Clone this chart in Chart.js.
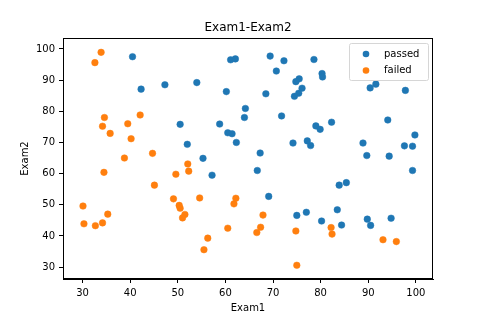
<!DOCTYPE html>
<html>
<head>
<meta charset="utf-8">
<script src="https://cdn.jsdelivr.net/npm/chart.js@4/dist/chart.umd.min.js"></script>
<style>
  html, body { margin: 0; padding: 0; background: #fff; }
  #wrap { width: 499px; height: 328px; }
</style>
</head>
<body>
<div id="wrap"><canvas id="chart" width="499" height="328"></canvas></div>
<script>
const BLUE = "#1f77b4";
const ORANGE = "#ff7f0e";
const FONT = "'DejaVu Sans', sans-serif";

// passed students: [exam1, exam2]
const passedExam1 = [60.2, 79.0, 61.1, 75.0, 76.1, 84.4, 82.3, 69.4, 54.0, 69.1,
  70.7, 77.0, 89.7, 77.9, 62.3, 80.2, 61.4, 85.4, 52.0, 64.2,
  83.9, 94.4, 77.2, 97.8, 62.1, 91.6, 79.9, 99.3, 90.5, 97.6,
  74.2, 71.8, 75.4, 40.5, 80.3, 66.7, 64.0, 72.3, 60.5, 58.8,
  99.8, 47.3, 50.5, 88.9, 94.8, 67.3, 57.2, 80.4, 68.5, 75.5,
  78.6, 94.1, 90.4, 74.5, 89.8, 83.5, 42.3, 99.3, 55.3, 74.8];
const passedExam2 = [86.3, 75.3, 96.5, 46.6, 87.4, 43.5, 76.5, 97.7, 89.2, 52.7,
  92.9, 47.6, 65.8, 69.0, 70.0, 44.8, 72.8, 57.1, 69.4, 80.9,
  56.3, 65.6, 70.5, 86.7, 96.8, 88.7, 74.2, 61.0, 43.4, 68.9,
  69.8, 78.5, 85.8, 97.5, 92.1, 61.0, 78.0, 96.2, 73.1, 75.9,
  72.4, 88.5, 75.8, 69.8, 45.7, 66.6, 59.5, 91.0, 85.6, 90.4,
  96.6, 77.2, 87.5, 84.8, 45.4, 48.4, 87.1, 68.8, 64.9, 89.5];

// failed students
const failedExam1 = [34.6, 30.3, 35.8, 45.1, 95.9, 75.0, 39.5, 67.9, 67.4, 50.5,
  34.2, 93.1, 61.8, 38.8, 52.1, 40.2, 54.6, 33.9, 74.8, 34.2,
  51.5, 82.4, 51.0, 62.2, 34.5, 50.3, 49.6, 32.6, 35.3, 56.3,
  30.1, 44.7, 66.6, 49.1, 32.7, 60.5, 82.2, 42.1, 52.3, 55.5];
const failedExam2 = [78.0, 43.9, 72.9, 56.3, 38.2, 30.6, 76.0, 46.7, 42.8, 48.9,
  44.2, 38.8, 50.3, 65.0, 63.1, 71.2, 52.2, 98.9, 41.6, 75.2,
  46.9, 40.6, 45.8, 52.1, 60.4, 49.8, 59.8, 95.6, 47.0, 39.3,
  49.6, 66.5, 41.1, 51.9, 43.3, 42.5, 42.7, 78.8, 60.8, 35.6];

const xTicks = [30, 40, 50, 60, 70, 80, 90, 100];
const yTicks = [30, 40, 50, 60, 70, 80, 90, 100];

const toPoints = (xs, ys) => xs.map((x, i) => ({ x: x, y: ys[i] }));

// frame, title, axis labels and legend drawn like matplotlib
const decorPlugin = {
  id: "decor",
  afterDraw: (chart) => {
    const { ctx, chartArea: { left, right, top, bottom } } = chart;
    ctx.save();
    ctx.strokeStyle = "#000";
    ctx.lineWidth = 1;
    ctx.strokeRect(left + 0.5, top + 0.5, right - left - 1, bottom - top - 1);

    ctx.fillStyle = "#000";
    ctx.textAlign = "center";
    ctx.textBaseline = "middle";
    ctx.font = "12px " + FONT;
    ctx.fillText("Exam1-Exam2", (left + right) / 2, 28);

    ctx.font = "10px " + FONT;
    ctx.fillText("Exam1", (left + right) / 2, 308);
    ctx.save();
    ctx.translate(25, (top + bottom) / 2);
    ctx.rotate(-Math.PI / 2);
    ctx.fillText("Exam2", 0, 0);
    ctx.restore();

    // legend
    const lx = 349, ly = 43, lw = 79, lh = 37;
    ctx.fillStyle = "rgba(255,255,255,0.8)";
    ctx.strokeStyle = "#d6d6d6";
    ctx.beginPath();
    ctx.roundRect(lx + 0.5, ly + 0.5, lw, lh, 2);
    ctx.fill();
    ctx.stroke();
    ctx.textAlign = "left";
    chart.data.datasets.forEach((ds, i) => {
      const y = 54 + i * 16.5;
      ctx.fillStyle = ds.backgroundColor;
      ctx.beginPath();
      ctx.arc(366, y, 3.3, 0, Math.PI * 2);
      ctx.fill();
      ctx.fillStyle = "#000";
      ctx.fillText(ds.label, 384, y);
    });
    ctx.restore();
  },
};

new Chart(document.getElementById("chart"), {
  type: "scatter",
  data: {
    datasets: [
      {
        label: "passed",
        data: toPoints(passedExam1, passedExam2),
        backgroundColor: BLUE,
        borderColor: BLUE,
        borderWidth: 0.5,
        pointRadius: 3.3,
      },
      {
        label: "failed",
        data: toPoints(failedExam1, failedExam2),
        backgroundColor: ORANGE,
        borderColor: ORANGE,
        borderWidth: 0.5,
        pointRadius: 3.3,
      },
    ],
  },
  options: {
    responsive: false,
    animation: false,
    layout: { padding: { left: 0, right: 66, top: 38, bottom: 0 } },
    plugins: {
      legend: { display: false },
      tooltip: { enabled: false },
      title: { display: false },
    },
    scales: {
      x: {
        type: "linear",
        min: 25.9,
        max: 103.6,
        afterBuildTicks: (scale) => {
          scale.ticks = xTicks.map((v) => ({ value: v }));
        },
        afterFit: (scale) => {
          scale.height = 49;
        },
        grid: { drawOnChartArea: false, drawTicks: true, tickLength: 4, color: "#000" },
        border: { display: true, color: "#000" },
        ticks: { color: "#000", font: { family: FONT, size: 10 }, padding: 4, maxRotation: 0 },
      },
      y: {
        type: "linear",
        min: 26.2,
        max: 103.5,
        afterBuildTicks: (scale) => {
          scale.ticks = yTicks.map((v) => ({ value: v }));
        },
        afterFit: (scale) => {
          scale.width = 63;
        },
        grid: { drawOnChartArea: false, drawTicks: true, tickLength: 4, color: "#000" },
        border: { display: true, color: "#000" },
        ticks: { color: "#000", font: { family: FONT, size: 10 }, padding: 4 },
      },
    },
  },
  plugins: [decorPlugin],
});
</script>
</body>
</html>
